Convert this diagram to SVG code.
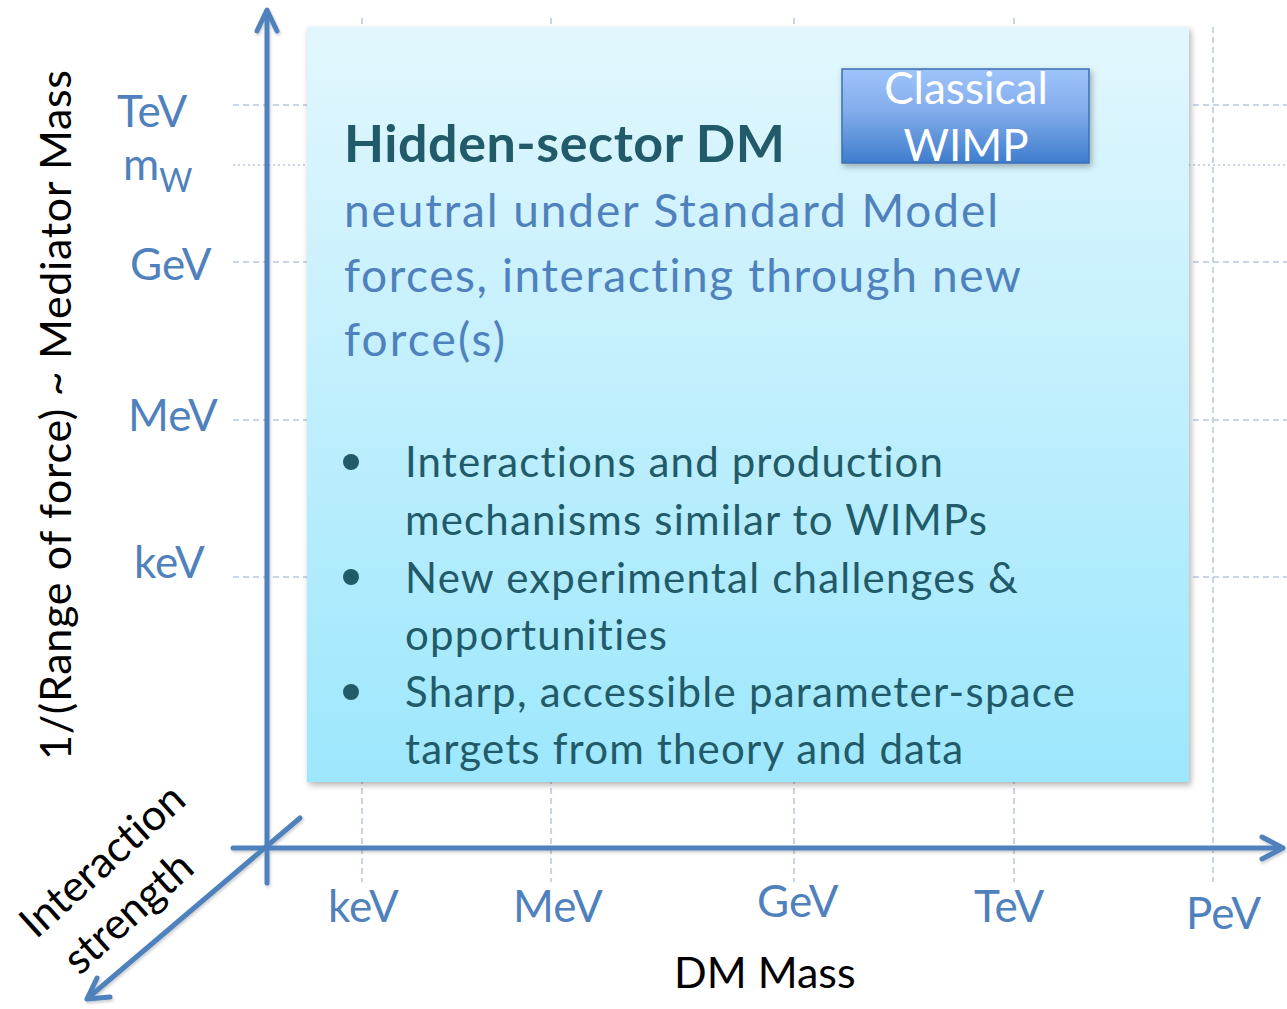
<svg xmlns="http://www.w3.org/2000/svg" width="1287" height="1009" viewBox="0 0 1287 1009">
  <defs>
    <linearGradient id="boxGrad" x1="0" y1="0" x2="0" y2="1">
      <stop offset="0" stop-color="#e2f7fd"/>
      <stop offset="1" stop-color="#9de7fd"/>
    </linearGradient>
    <linearGradient id="wimpGrad" x1="0" y1="0" x2="0" y2="1">
      <stop offset="0" stop-color="#9ec4fb"/>
      <stop offset="0.45" stop-color="#82aceb"/>
      <stop offset="1" stop-color="#3e7dcd"/>
    </linearGradient>
    <filter id="shadow" x="-10%" y="-10%" width="120%" height="120%">
      <feDropShadow dx="2" dy="3" stdDeviation="3" flood-color="#000" flood-opacity="0.3"/>
    </filter>
    <filter id="lineShadow" x="-10%" y="-10%" width="120%" height="120%">
      <feDropShadow dx="1" dy="2" stdDeviation="1.5" flood-color="#000" flood-opacity="0.2"/>
    </filter>
  </defs>
  <style>
    text { font-variant-ligatures: none; }
    .grid { stroke: #b8c8de; stroke-width: 1.5; fill: none; stroke-dasharray: 6 4; }
    .dotted { stroke: #b8c8de; stroke-width: 1.5; fill: none; stroke-dasharray: 2 3; }
    .axis { stroke: #4f81bd; stroke-width: 5; fill: none; stroke-linecap: round; stroke-linejoin: round; }
    .tick { font-family: Lato, "Liberation Sans", sans-serif; font-size: 44px; fill: #4f81bd; }
    .title { font-family: Lato, "Liberation Sans", sans-serif; font-size: 43px; fill: #000; }
    .head { font-family: Lato, "Liberation Sans", sans-serif; font-size: 52px; font-weight: bold; fill: #215a68; }
    .body { font-family: Lato, "Liberation Sans", sans-serif; font-size: 46px; fill: #4f81bd; }
    .bullet { font-family: Lato, "Liberation Sans", sans-serif; font-size: 42px; fill: #215a68; }
    .wimp { font-family: Lato, "Liberation Sans", sans-serif; font-size: 44px; fill: #ffffff; text-anchor: middle; }
  </style>

  <rect width="1287" height="1009" fill="#ffffff"/>

  <g id="gridlines">
    <line class="grid" x1="233" y1="105" x2="1287" y2="105"/>
    <line class="dotted" x1="233" y1="165" x2="1287" y2="165"/>
    <line class="grid" x1="233" y1="262" x2="1287" y2="262"/>
    <line class="grid" x1="233" y1="420" x2="1287" y2="420"/>
    <line class="grid" x1="233" y1="577" x2="1287" y2="577"/>
    <line class="grid" x1="362" y1="18" x2="362" y2="882"/>
    <line class="grid" x1="551" y1="18" x2="551" y2="882"/>
    <line class="grid" x1="794" y1="18" x2="794" y2="882"/>
    <line class="grid" x1="1014" y1="18" x2="1014" y2="882"/>
    <line class="grid" x1="1213" y1="27" x2="1213" y2="882"/>
  </g>

  <g id="connectors" filter="url(#lineShadow)">
    <line class="axis" x1="267" y1="883" x2="267" y2="11"/>
    <polyline class="axis" points="257,31 267,10 277,31"/>
    <line class="axis" x1="233" y1="848" x2="1281" y2="848"/>
    <polyline class="axis" points="1262,837 1283,848 1262,859"/>
    <line class="axis" x1="300" y1="818" x2="88" y2="998"/>
    <polyline class="axis" points="97,978 87,999 110,997"/>
  </g>

  <g id="hidden-sector-box">
    <rect x="307" y="27" width="882" height="755" fill="url(#boxGrad)" filter="url(#shadow)"/>
    <text class="head" x="344" y="162" textLength="441">Hidden-sector DM</text>
    <text class="body" x="344" y="227" textLength="654">neutral under Standard Model</text>
    <text class="body" x="344" y="292" textLength="677">forces, interacting through new</text>
    <text class="body" x="344" y="356" textLength="161">force(s)</text>
    <circle cx="351" cy="462" r="8" fill="#215a68"/>
    <circle cx="351" cy="577" r="8" fill="#215a68"/>
    <circle cx="351" cy="692" r="8" fill="#215a68"/>
    <text class="bullet" x="405" y="477" textLength="538">Interactions and production</text>
    <text class="bullet" x="405" y="535" textLength="582">mechanisms similar to WIMPs</text>
    <text class="bullet" x="405" y="593" textLength="613">New experimental challenges &amp;</text>
    <text class="bullet" x="405" y="650" textLength="262">opportunities</text>
    <text class="bullet" x="405" y="707" textLength="670">Sharp, accessible parameter-space</text>
    <text class="bullet" x="405" y="764" textLength="558">targets from theory and data</text>
  </g>

  <g id="classical-wimp">
    <rect x="842" y="69" width="247" height="94" fill="url(#wimpGrad)" stroke="#3c6fb3" stroke-width="1.5" filter="url(#shadow)"/>
    <text class="wimp" x="966" y="104">Classical</text>
    <text class="wimp" x="966" y="161">WIMP</text>
  </g>

  <g id="y-axis-labels">
    <text class="tick" x="117" y="127">TeV</text>
    <text class="tick" x="123" y="180">m<tspan font-size="32" dy="12">W</tspan></text>
    <text class="tick" x="130" y="280">GeV</text>
    <text class="tick" x="128" y="431">MeV</text>
    <text class="tick" x="134" y="578">keV</text>
    <text class="title" transform="translate(71,415) rotate(-90)" text-anchor="middle" textLength="690">1/(Range of force) ~ Mediator Mass</text>
  </g>

  <g id="x-axis-labels">
    <text class="tick" x="328" y="922">keV</text>
    <text class="tick" x="513" y="922">MeV</text>
    <text class="tick" x="757" y="917">GeV</text>
    <text class="tick" x="974" y="922">TeV</text>
    <text class="tick" x="1186" y="929">PeV</text>
    <text class="title" x="674" y="988">DM Mass</text>
  </g>

  <g id="z-axis-label" transform="translate(36,940) rotate(-42)">
    <text class="title" x="0" y="0" font-size="46">Interaction</text>
    <text class="title" x="8" y="56" font-size="46">strength</text>
  </g>
</svg>
